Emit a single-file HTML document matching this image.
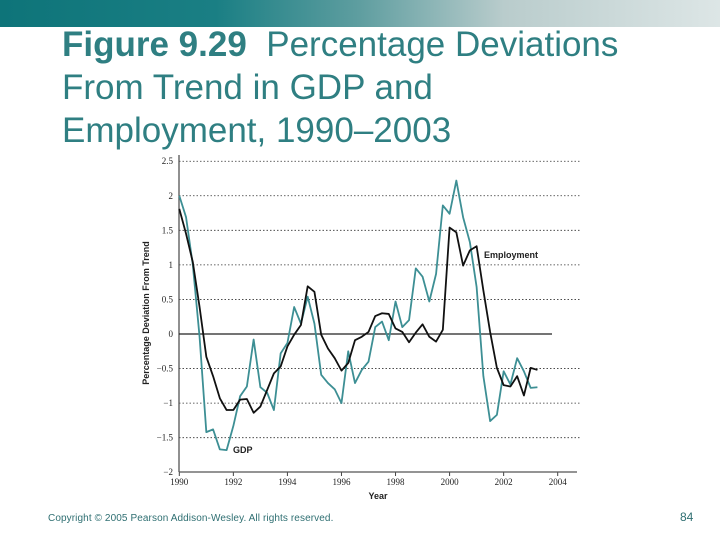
<!DOCTYPE html>
<html><head><meta charset="utf-8"><style>
body{margin:0;width:720px;height:540px;background:#fff;position:relative;overflow:hidden;font-family:"Liberation Sans",sans-serif}
#hdr{position:absolute;left:0;top:0;width:720px;height:27px;background:linear-gradient(90deg,#0e7479 0%,#1a7f84 30%,#5f9ea0 50%,#b9cccc 70%,#dde6e6 100%)}
#title{position:absolute;left:62px;top:23px;font-size:35px;line-height:43px;color:#2f7f82;white-space:nowrap}
#copy{position:absolute;left:48px;top:513px;font-size:10px;color:#2f6f72;letter-spacing:0.1px}
#pg{position:absolute;left:680px;top:510px;font-size:12px;color:#2f6f72}
svg{position:absolute;left:0;top:0}
</style></head><body>
<div id="hdr"></div>
<div id="title"><b>Figure 9.29</b>&nbsp; Percentage Deviations<br>From Trend in GDP and<br>Employment, 1990–2003</div>
<div id="copy">Copyright © 2005 Pearson Addison-Wesley. All rights reserved.</div>
<div id="pg">84</div>
<svg id="chart" width="720" height="540"></svg>
<script>
const yTicks=[2.5,2,1.5,1,0.5,0,-0.5,-1,-1.5,-2];
const yTickLabels=["2.5","2","1.5","1","0.5","0","\u22120.5","\u22121","\u22121.5","\u22122"];
const xTicks=[1990,1992,1994,1996,1998,2000,2002,2004];
const quarterTimes=[1990,1990.25,1990.5,1990.75,1991,1991.25,1991.5,1991.75,1992,1992.25,1992.5,1992.75,1993,1993.25,1993.5,1993.75,1994,1994.25,1994.5,1994.75,1995,1995.25,1995.5,1995.75,1996,1996.25,1996.5,1996.75,1997,1997.25,1997.5,1997.75,1998,1998.25,1998.5,1998.75,1999,1999.25,1999.5,1999.75,2000,2000.25,2000.5,2000.75,2001,2001.25,2001.5,2001.75,2002,2002.25,2002.5,2002.75,2003,2003.25];
const gdp=[2.0,1.69,1.0,-0.04,-1.42,-1.38,-1.67,-1.68,-1.33,-0.9,-0.76,-0.08,-0.77,-0.85,-1.1,-0.28,-0.13,0.39,0.15,0.54,0.15,-0.59,-0.71,-0.8,-1.0,-0.25,-0.71,-0.52,-0.4,0.1,0.18,-0.09,0.47,0.1,0.2,0.95,0.83,0.47,0.87,1.86,1.74,2.22,1.69,1.33,0.68,-0.61,-1.26,-1.17,-0.54,-0.73,-0.35,-0.54,-0.78,-0.77];
const employment=[1.81,1.45,1.04,0.39,-0.33,-0.61,-0.93,-1.1,-1.1,-0.95,-0.94,-1.14,-1.05,-0.81,-0.57,-0.47,-0.18,-0.01,0.13,0.69,0.61,-0.01,-0.21,-0.35,-0.53,-0.42,-0.09,-0.04,0.03,0.26,0.3,0.29,0.08,0.03,-0.12,0.02,0.14,-0.04,-0.11,0.06,1.54,1.47,0.99,1.21,1.27,0.63,0.03,-0.49,-0.74,-0.76,-0.61,-0.89,-0.49,-0.52];
const NS="http://www.w3.org/2000/svg";
const svg=document.getElementById('chart');
const X=t=>179.3+(t-1990)*(557.7-179.3)/14;
const Y=v=>334+(-v)*(472-161)/4.5;
function el(tag,attrs){const e=document.createElementNS(NS,tag);for(const k in attrs)e.setAttribute(k,attrs[k]);svg.appendChild(e);return e;}
yTicks.forEach((v,i)=>{
  if(v>-2&&v!==0){const g=el('line',{x1:179,x2:580,y1:Y(v),y2:Y(v),stroke:'#333','stroke-width':0.8,'stroke-dasharray':'1.5,2'});
  
  }
  const t=el('text',{x:173,y:Y(v)+3,'text-anchor':'end','font-size':9,'font-family':'Liberation Serif, serif',fill:'#222'});
  t.textContent=yTickLabels[i];
  
  
});
xTicks.forEach(v=>{
  const tk=el('line',{x1:X(v),x2:X(v),y1:472,y2:476,stroke:'#444','stroke-width':1});
  
  
  const t=el('text',{x:X(v),y:485,'text-anchor':'middle','font-size':9,'font-family':'Liberation Serif, serif',fill:'#222'});
  t.textContent=v;
  
  
});
const ya=el('line',{x1:179,x2:179,y1:155,y2:472,stroke:'#555','stroke-width':1.3});


const xa=el('line',{x1:179,x2:577,y1:472,y2:472,stroke:'#555','stroke-width':1.3});


const zl=el('line',{x1:179,x2:552,y1:Y(0),y2:Y(0),stroke:'#222','stroke-width':1.2});


const gp=el('polyline',{points:quarterTimes.map((t,i)=>X(t)+','+Y(gdp[i])).join(' '),fill:'none',stroke:'#3d8f94','stroke-width':1.8,'stroke-linejoin':'round'});


const ep=el('polyline',{points:quarterTimes.map((t,i)=>X(t)+','+Y(employment[i])).join(' '),fill:'none',stroke:'#111','stroke-width':1.8,'stroke-linejoin':'round'});


const l1=el('text',{x:484,y:258,'font-size':9,'font-weight':'bold',fill:'#222'});l1.textContent='Employment';


const l2=el('text',{x:233,y:453,'font-size':9,'font-weight':'bold',fill:'#222'});l2.textContent='GDP';


const xt=el('text',{x:378,y:499,'text-anchor':'middle','font-size':9,'font-weight':'bold',fill:'#222'});xt.textContent='Year';


const yt=el('text',{x:0,y:0,'text-anchor':'middle','font-size':9,'font-weight':'bold',fill:'#222',transform:'translate(149,313) rotate(-90)'});yt.textContent='Percentage Deviation From Trend';


</script>
</body></html>
